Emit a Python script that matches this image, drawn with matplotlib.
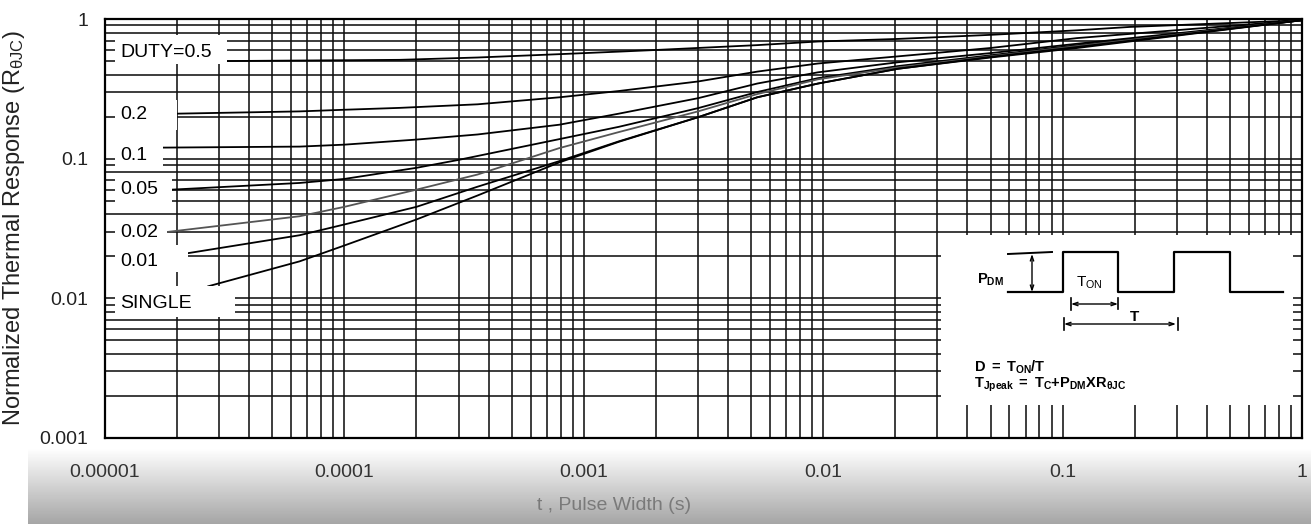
import numpy as np
import matplotlib
matplotlib.use("Agg")
import matplotlib.pyplot as plt
from matplotlib.ticker import LogLocator, NullFormatter

plt.rcParams['font.family'] = ['Liberation Sans', 'DejaVu Sans']
plt.rcParams['mathtext.fontset'] = 'custom'
plt.rcParams['mathtext.rm'] = 'Liberation Sans'
plt.rcParams['mathtext.it'] = 'Liberation Sans:italic'
plt.rcParams['mathtext.bf'] = 'Liberation Sans:bold'

# --- data (t in s, normalized Zth) ---
t_d50 = [3.2e-5, 1.7e-4, 3.6e-4, 7.9e-4, 1.4e-3, 2.0e-3, 5.3e-3, 9.5e-3, 2.05e-2, 0.05, 0.115, 0.19, 1.0]
z_d50 = [0.50, 0.51, 0.53, 0.56, 0.584, 0.60, 0.65, 0.69, 0.72, 0.77, 0.83, 0.877, 0.98]

t_d20 = [2.0e-5, 6.5e-5, 1.0e-4, 1.7e-4, 3.6e-4, 7.9e-4, 1.4e-3, 3.0e-3, 5.3e-3, 9.5e-3, 2.05e-2, 0.05, 0.115, 1.0]
z_d20 = [0.21, 0.218, 0.224, 0.231, 0.245, 0.275, 0.305, 0.357, 0.42, 0.48, 0.54, 0.62, 0.73, 0.98]

t_d10 = [1.75e-5, 6.5e-5, 1.0e-4, 2.0e-4, 3.6e-4, 7.9e-4, 1.4e-3, 3.0e-3, 5.3e-3, 9.5e-3, 2.05e-2, 0.05, 0.115, 1.0]
z_d10 = [0.12, 0.122, 0.126, 0.137, 0.149, 0.175, 0.21, 0.271, 0.345, 0.415, 0.49, 0.57, 0.665, 0.98]

t_d05 = [1.9e-5, 6.5e-5, 1.0e-4, 2.0e-4, 3.0e-4, 7.9e-4, 1.4e-3, 3.0e-3, 5.3e-3, 9.5e-3, 2.05e-2, 0.05, 0.115, 1.0]
z_d05 = [0.060, 0.067, 0.0716, 0.086, 0.098, 0.138, 0.169, 0.23, 0.30, 0.377, 0.46, 0.55, 0.65, 0.98]

t_d02 = [1.8e-5, 6.5e-5, 1.0e-4, 2.0e-4, 3.6e-4, 7.9e-4, 1.4e-3, 3.0e-3, 5.3e-3, 9.5e-3, 2.05e-2, 0.05, 0.115, 1.0]
z_d02 = [0.0298, 0.0387, 0.0452, 0.060, 0.077, 0.119, 0.155, 0.218, 0.29, 0.37, 0.45, 0.54, 0.64, 0.98]

t_d01 = [2.2e-5, 6.5e-5, 1.0e-4, 2.0e-4, 3.6e-4, 7.9e-4, 1.4e-3, 3.0e-3, 5.3e-3, 9.5e-3, 2.05e-2, 0.05, 0.115, 1.0]
z_d01 = [0.021, 0.0283, 0.0338, 0.0452, 0.063, 0.096, 0.133, 0.198, 0.275, 0.345, 0.44, 0.535, 0.63, 0.98]

t_single = [2.7e-5, 6.5e-5, 1.0e-4, 2.0e-4, 3.6e-4, 7.9e-4, 1.4e-3, 3.0e-3, 5.3e-3, 9.5e-3, 2.05e-2, 0.05, 0.115, 1.0]
z_single = [0.0122, 0.0184, 0.0239, 0.0367, 0.0545, 0.094, 0.132, 0.198, 0.275, 0.345, 0.44, 0.53, 0.62, 0.98]

curve_t = [t_d50, t_d20, t_d10, t_d05, t_d02, t_d01, t_single]
curve_z = [z_d50, z_d20, z_d10, z_d05, z_d02, z_d01, z_single]
curve_colors = ['black', 'black', 'black', 'black', '#555555', 'black', 'black']

label_names = ['DUTY=0.5', '0.2', '0.1', '0.05', '0.02', '0.01', 'SINGLE']
label_y = [0.575, 0.206, 0.105, 0.060, 0.0297, 0.0184, 0.0092]
# white boxes behind the labels: (t_right, z_low, z_high)
label_box_right = [3.22e-5, 2.0e-5, 1.74e-5, 1.90e-5, 1.81e-5, 2.22e-5, 3.48e-5]
label_box_zlo = [0.477, 0.161, 0.0877, 0.0447, 0.0243, 0.0154, 0.0073]
label_box_zhi = [0.769, 0.264, 0.137, 0.077, 0.0366, 0.0239, 0.0122]

xticks = [1e-5, 1e-4, 1e-3, 1e-2, 1e-1, 1]
xtick_labels = ['0.00001', '0.0001', '0.001', '0.01', '0.1', '1']
yticks = [0.001, 0.01, 0.1, 1]
ytick_labels = ['0.001', '0.01', '0.1', '1']

W, H = 1311, 524
fig = plt.figure(figsize=(W / 100, H / 100), dpi=100)

# grey gradient band at the bottom
band = fig.add_axes([28 / W, 0, 1 - 28 / W, 76 / H])
grad = np.linspace(1.0, 0.65, 100).reshape(-1, 1)
band.imshow(grad, cmap='gray', vmin=0, vmax=1, aspect='auto', extent=[0, 1, 0, 1], origin='upper')
band.set_axis_off()

ax = fig.add_axes([105 / W, 1 - 438 / H, 1197 / W, 419 / H])
ax.set_xscale('log')
ax.set_yscale('log')
ax.set_xlim(1e-5, 1)
ax.set_ylim(1e-3, 1)

ax.xaxis.set_minor_locator(LogLocator(base=10, subs=np.arange(2, 10)))
ax.yaxis.set_minor_locator(LogLocator(base=10, subs=np.arange(2, 10)))
ax.xaxis.set_minor_formatter(NullFormatter())
ax.yaxis.set_minor_formatter(NullFormatter())
ax.set_xticks(xticks)
ax.set_xticklabels(xtick_labels)
ax.set_yticks(yticks)
ax.set_yticklabels(ytick_labels)
ax.tick_params(which='both', length=0)
ax.tick_params(axis='x', pad=19, labelsize=14, labelcolor='#333333')
ax.tick_params(axis='y', pad=12, labelsize=14, labelcolor='#222222')
ax.grid(which='both', color='#111111', lw=1.15)
for sp in ax.spines.values():
    sp.set_linewidth(1.6)

for ts, zs, c in zip(curve_t, curve_z, curve_colors):
    ax.plot(ts, zs, color=c, lw=1.3, zorder=2)

for name, ly, xr, zlo, zhi in zip(label_names, label_y, label_box_right, label_box_zlo, label_box_zhi):
    ax.fill_between([1.1e-5, xr], zlo, zhi, color='white', lw=0, zorder=3)
    ax.text(1.155e-5, ly, name, fontsize=14, va='center', ha='left', zorder=4)

fig.text(14 / W, 1 - 228 / H, r'Normalized Thermal Response (R$_{\mathrm{θJC}}$)',
         rotation=90, ha='center', va='center', fontsize=17, color='#222222')
fig.text(614 / W, 1 - 505 / H, 't , Pulse Width (s)', ha='center', va='center',
         fontsize=14, color='#7a7a7a')

# inset with the pulse sketch, drawn in pixel units
ins = fig.add_axes([941 / W, 1 - 405 / H, (1292.5 - 941) / W, (405 - 234.5) / H])
ins.set_xlim(941, 1292.5)
ins.set_ylim(405, 234.5)
ins.set_xticks([])
ins.set_yticks([])
for sp in ins.spines.values():
    sp.set_visible(False)
ins.set_facecolor('white')

pulse_x = [1008, 1063, 1063, 1118, 1118, 1174, 1174, 1230, 1230, 1283]
pulse_y = [292, 292, 252, 252, 292, 292, 252, 252, 292, 292]
ins.plot(pulse_x, pulse_y, color='black', lw=1.6)
ins.plot([1008, 1052], [254, 252], color='black', lw=1.4)
arr = dict(arrowstyle='<->,head_length=0.35,head_width=0.12', color='black', lw=1.0, shrinkA=0, shrinkB=0)
ins.annotate('', xy=(1032, 254), xytext=(1032, 292), arrowprops=arr)
ins.annotate('', xy=(1071, 304), xytext=(1118, 304), arrowprops=arr)
ins.annotate('', xy=(1064, 324), xytext=(1176, 324), arrowprops=arr)
ins.plot([1071, 1071], [298, 310], color='black', lw=1.2)
ins.plot([1118, 1118], [298, 309], color='black', lw=1.2)
ins.plot([1064, 1064], [318, 330], color='black', lw=1.2)
ins.plot([1178, 1178], [318, 330], color='black', lw=1.2)

ins.text(977, 280, r'$\mathbf{P}_{\mathbf{DM}}$', fontsize=10.5, ha='left', va='center')
ins.text(1076, 283, r'$\mathrm{T}_{\mathrm{ON}}$', fontsize=11, ha='left', va='center')
ins.text(1135, 317, 'T', fontsize=11, fontweight='bold', ha='center', va='center')
ins.text(974, 367, r'$\mathbf{D\ =\ T_{ON}/T}$', fontsize=10.5, ha='left', va='center')
ins.text(974, 385, r'$\mathbf{T_{Jpeak}\ =\ T_C{+}P_{DM}XR_{θJC}}$', fontsize=10.5, ha='left', va='center')

fig.savefig('out.png', dpi=100)
